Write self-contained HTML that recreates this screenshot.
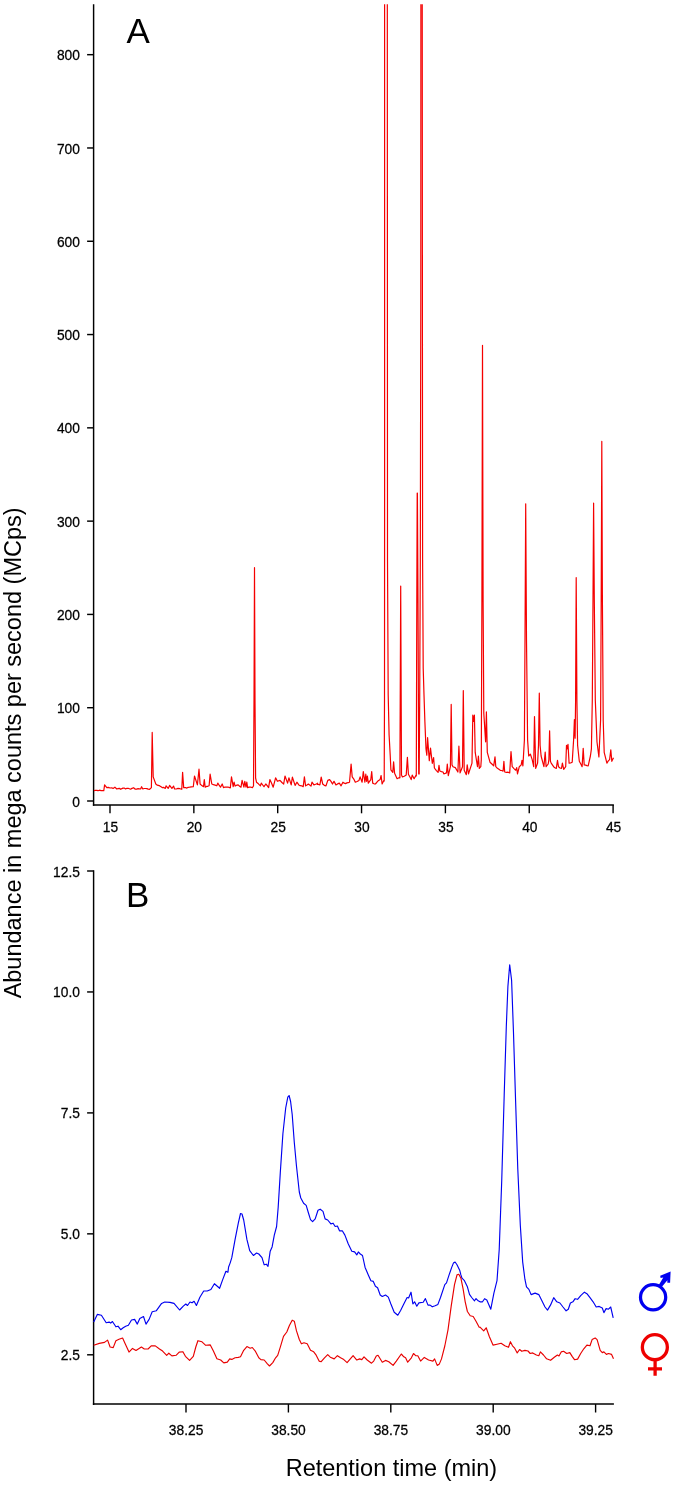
<!DOCTYPE html>
<html lang="en"><head><meta charset="utf-8"><title>Chromatogram</title>
<style>html,body{margin:0;padding:0;background:#fff}svg{display:block}text{font-family:"Liberation Sans",Arial,Helvetica,sans-serif;fill:#000}.t{font-size:13.8px;stroke:#000;stroke-width:.25px}.big{font-size:35px}.ttl{font-size:23.5px}.ay{stroke:#000;stroke-width:1.45;fill:none}.axx{stroke:#000;stroke-width:1.5;fill:none}.tky{stroke:#000;stroke-width:1.45;fill:none}.tkx{stroke:#000;stroke-width:1.4;fill:none}</style></head><body>
<svg width="675" height="1485" viewBox="0 0 675 1485">
<rect width="675" height="1485" fill="#fff"/>
<defs><clipPath id="ca"><rect x="92.8" y="4.3" width="521.4" height="800.6"/></clipPath></defs>
<path class="ay" d="M93.60 4.3 V805.70"/>
<path class="axx" d="M92.88 804.90 H613.9"/>
<path class="tky" d="M87.1 801.00 H93.6"/>
<text class="t" transform="translate(79.9 806.5) scale(1 1.120)" text-anchor="end">0</text>
<path class="tky" d="M87.1 707.71 H93.6"/>
<text class="t" transform="translate(79.9 713.2) scale(1 1.120)" text-anchor="end">100</text>
<path class="tky" d="M87.1 614.42 H93.6"/>
<text class="t" transform="translate(79.9 619.9) scale(1 1.120)" text-anchor="end">200</text>
<path class="tky" d="M87.1 521.13 H93.6"/>
<text class="t" transform="translate(79.9 526.6) scale(1 1.120)" text-anchor="end">300</text>
<path class="tky" d="M87.1 427.84 H93.6"/>
<text class="t" transform="translate(79.9 433.3) scale(1 1.120)" text-anchor="end">400</text>
<path class="tky" d="M87.1 334.55 H93.6"/>
<text class="t" transform="translate(79.9 340.1) scale(1 1.120)" text-anchor="end">500</text>
<path class="tky" d="M87.1 241.26 H93.6"/>
<text class="t" transform="translate(79.9 246.8) scale(1 1.120)" text-anchor="end">600</text>
<path class="tky" d="M87.1 147.97 H93.6"/>
<text class="t" transform="translate(79.9 153.5) scale(1 1.120)" text-anchor="end">700</text>
<path class="tky" d="M87.1 54.68 H93.6"/>
<text class="t" transform="translate(79.9 60.2) scale(1 1.120)" text-anchor="end">800</text>
<path class="tkx" d="M110.00 804.9 V813.3"/>
<text class="t" transform="translate(110.5 831.7) scale(1 1.120)" text-anchor="middle">15</text>
<path class="tkx" d="M193.85 804.9 V813.3"/>
<text class="t" transform="translate(194.3 831.7) scale(1 1.120)" text-anchor="middle">20</text>
<path class="tkx" d="M277.70 804.9 V813.3"/>
<text class="t" transform="translate(278.2 831.7) scale(1 1.120)" text-anchor="middle">25</text>
<path class="tkx" d="M361.55 804.9 V813.3"/>
<text class="t" transform="translate(362.0 831.7) scale(1 1.120)" text-anchor="middle">30</text>
<path class="tkx" d="M445.40 804.9 V813.3"/>
<text class="t" transform="translate(445.9 831.7) scale(1 1.120)" text-anchor="middle">35</text>
<path class="tkx" d="M529.25 804.9 V813.3"/>
<text class="t" transform="translate(529.8 831.7) scale(1 1.120)" text-anchor="middle">40</text>
<path class="tkx" d="M613.10 804.9 V813.3"/>
<text class="t" transform="translate(613.6 831.7) scale(1 1.120)" text-anchor="middle">45</text>
<g clip-path="url(#ca)"><path d="M93.9 790.6 L95.3 790.4 L96.7 790.3 L98.1 790.7 L99.5 790.2 L101.0 790.6 L102.4 790.5 L103.8 790.6 L104.6 784.9 L106.8 787.6 L108.4 787.4 L110.0 788.0 L111.5 787.8 L113.1 788.4 L114.9 787.2 L116.7 789.0 L118.0 788.6 L119.3 788.3 L120.6 789.3 L122.9 788.1 L124.2 788.1 L125.6 789.0 L126.9 788.3 L128.2 788.3 L130.5 789.2 L132.0 788.4 L133.6 787.7 L135.3 789.2 L136.7 789.2 L138.0 788.6 L140.6 789.0 L141.6 786.7 L142.8 789.0 L144.2 788.5 L145.5 788.5 L146.9 788.6 L148.2 789.1 L149.6 789.3 L151.4 787.6 L152.2 732.4 L153.2 776.9 L155.8 784.0 L157.1 785.1 L158.4 785.4 L159.8 785.9 L161.1 786.7 L162.5 787.7 L163.9 787.4 L165.3 788.4 L166.1 785.8 L168.2 788.4 L169.6 785.4 L171.9 788.4 L173.6 786.1 L174.6 789.0 L176.3 789.0 L178.0 788.4 L179.9 788.7 L181.8 789.3 L182.6 772.4 L183.7 787.6 L185.3 787.5 L186.9 788.1 L188.2 787.3 L189.6 787.2 L191.4 786.8 L193.3 786.7 L194.5 776.0 L197.4 784.9 L199.0 769.2 L200.1 784.0 L201.8 785.6 L203.5 786.7 L204.3 779.6 L205.2 787.2 L206.5 786.4 L207.8 786.3 L209.1 785.8 L210.1 774.2 L211.8 784.0 L213.4 784.7 L215.1 785.1 L216.8 785.8 L217.8 783.1 L219.1 785.2 L220.5 787.2 L222.2 784.0 L223.5 787.6 L225.1 787.0 L226.7 787.2 L228.5 787.2 L230.3 787.9 L231.5 776.9 L233.2 786.7 L234.1 782.2 L235.1 786.1 L236.7 785.2 L238.2 784.9 L239.6 786.2 L241.0 787.2 L242.1 780.4 L243.9 787.2 L244.8 781.3 L246.0 787.2 L246.8 782.2 L247.6 787.6 L249.0 787.2 L250.3 787.0 L252.4 787.6 L253.5 786.0 L254.0 700.0 L254.5 567.7 L255.0 700.0 L255.6 778.0 L256.5 782.2 L258.4 783.8 L260.4 785.8 L261.3 783.1 L262.7 785.0 L264.0 786.7 L265.8 784.0 L267.2 785.7 L268.6 787.6 L269.9 779.6 L271.6 783.2 L273.2 787.2 L275.6 777.8 L277.4 781.3 L280.0 780.4 L281.9 782.5 L283.7 784.0 L285.0 776.0 L287.6 783.1 L288.9 777.8 L291.2 784.9 L292.4 777.2 L295.1 785.4 L296.9 782.2 L298.8 784.9 L300.2 785.7 L301.7 785.8 L303.2 786.7 L304.4 776.9 L305.6 785.8 L307.0 785.0 L308.4 784.0 L311.0 786.1 L312.0 782.2 L313.9 784.9 L315.6 784.3 L317.3 783.6 L317.4 783.1 L317.4 783.9 L317.5 784.0 L317.5 784.5 L318.4 784.4 L319.9 784.9 L321.2 777.2 L322.7 784.0 L324.3 785.3 L326.0 785.8 L327.8 780.4 L329.6 779.6 L331.0 781.4 L332.5 784.0 L334.0 781.3 L335.9 784.9 L337.6 783.9 L339.3 783.1 L341.1 785.8 L342.9 782.2 L344.2 783.2 L345.6 783.6 L346.9 782.9 L348.2 782.7 L349.5 782.2 L351.1 764.1 L352.2 776.9 L353.8 779.1 L355.3 782.2 L357.1 781.5 L359.0 780.4 L360.1 776.9 L362.1 782.2 L363.3 771.6 L364.9 782.2 L365.8 774.2 L366.6 781.3 L367.4 776.0 L368.3 783.1 L370.8 779.6 L371.7 771.6 L372.7 783.1 L374.1 783.8 L375.4 784.0 L377.6 781.3 L380.1 779.6 L381.1 775.5 L382.1 784.0 L383.8 780.4 L384.2 781.0 L384.5 700.0 L384.6 500.0 L384.6 -40.0 L386.0 -39.9 L387.3 -40.0 L387.5 560.0 L388.2 695.0 L389.1 735.0 L390.2 755.0 L390.9 769.8 L392.8 772.4 L393.6 761.8 L394.6 773.3 L397.1 778.7 L398.9 777.8 L399.9 778.0 L400.7 586.0 L401.5 775.0 L402.4 776.9 L404.3 776.3 L406.2 775.1 L407.4 757.3 L408.4 774.2 L409.8 776.7 L411.2 779.6 L412.2 775.1 L414.1 778.7 L416.1 775.1 L416.3 776.0 L416.8 600.0 L417.2 493.0 L417.4 493.0 L418.0 600.0 L418.7 774.0 L419.2 774.0 L419.7 700.0 L420.3 560.0 L420.8 300.0 L420.9 -40.0 L422.2 -40.0 L422.4 300.0 L422.6 560.0 L423.2 668.0 L424.0 695.0 L424.9 722.0 L426.0 749.0 L426.8 755.2 L427.6 737.7 L429.3 760.6 L430.5 748.1 L432.3 763.3 L433.6 757.6 L434.4 768.0 L436.2 770.4 L438.1 772.4 L439.0 765.3 L439.8 771.0 L441.4 771.6 L443.0 772.0 L443.8 773.8 L445.2 773.4 L446.5 772.9 L447.3 764.0 L448.3 775.6 L450.4 766.7 L451.2 704.4 L452.0 764.9 L453.0 766.7 L455.3 767.6 L457.9 772.0 L458.9 746.2 L460.1 772.9 L462.5 766.7 L463.3 690.6 L464.2 770.2 L466.3 774.7 L467.2 764.9 L468.5 773.8 L472.0 763.1 L472.8 715.1 L473.6 721.3 L474.4 715.1 L475.2 752.4 L477.5 766.7 L478.4 756.0 L479.3 768.4 L480.8 766.7 L481.3 759.6 L481.9 600.0 L482.5 345.3 L483.1 600.0 L483.8 713.3 L485.6 741.8 L486.4 711.9 L487.3 752.4 L490.0 762.2 L491.9 764.0 L493.7 765.8 L495.0 756.9 L495.8 766.7 L497.4 768.3 L498.9 769.3 L500.3 770.3 L501.7 770.5 L503.1 771.1 L503.9 761.3 L504.7 772.0 L506.4 772.4 L508.1 772.2 L509.7 772.9 L511.0 751.6 L512.2 766.7 L514.0 768.6 L515.7 770.2 L516.7 767.6 L517.5 773.8 L519.3 766.7 L521.2 764.9 L522.0 760.4 L522.9 765.8 L524.4 740.0 L525.0 640.0 L525.7 503.8 L526.5 640.0 L527.6 740.0 L528.7 756.0 L530.4 754.2 L532.2 759.6 L533.7 766.7 L534.5 716.5 L535.7 768.4 L537.6 763.1 L538.5 745.3 L539.3 693.2 L540.1 745.3 L541.1 756.0 L543.9 766.7 L545.2 752.1 L546.1 766.7 L548.2 764.0 L548.9 759.6 L549.6 730.8 L550.4 761.3 L551.2 763.1 L553.6 766.7 L554.9 767.7 L556.3 768.4 L557.5 760.4 L558.5 766.7 L560.0 768.0 L561.5 768.4 L562.4 763.1 L563.7 769.3 L565.7 766.7 L566.5 745.3 L567.2 748.9 L568.0 744.4 L569.1 763.1 L570.6 763.0 L572.2 762.2 L573.6 740.0 L574.4 719.6 L575.1 738.2 L575.6 700.0 L576.2 577.7 L576.9 700.0 L577.6 745.3 L579.3 761.3 L580.7 763.8 L582.1 766.7 L583.2 748.4 L584.2 764.9 L585.6 765.1 L586.9 765.6 L588.2 765.8 L590.4 756.0 L591.4 748.9 L592.3 700.0 L593.0 600.0 L593.6 503.0 L594.3 600.0 L595.3 700.0 L597.0 742.0 L598.9 756.9 L600.6 720.0 L601.2 600.0 L601.8 441.4 L602.4 600.0 L603.2 720.0 L604.2 752.4 L606.9 763.1 L608.3 760.9 L609.6 759.6 L610.8 749.8 L611.8 761.3 L613.5 757.8" fill="none" stroke="#f50000" stroke-width="1.2" stroke-linejoin="round"/></g>
<text class="big" transform="translate(126.6 43.2) scale(1 1.025)" text-anchor="start">A</text>
<path class="ay" d="M93.60 870.3 V1404.90"/>
<path class="axx" d="M92.88 1404.10 H613.9"/>
<path class="tky" d="M87.1 1354.80 H93.6"/>
<text class="t" transform="translate(79.9 1360.3) scale(1 1.120)" text-anchor="end">2.5</text>
<path class="tky" d="M87.1 1233.85 H93.6"/>
<text class="t" transform="translate(79.9 1239.3) scale(1 1.120)" text-anchor="end">5.0</text>
<path class="tky" d="M87.1 1112.90 H93.6"/>
<text class="t" transform="translate(79.9 1118.4) scale(1 1.120)" text-anchor="end">7.5</text>
<path class="tky" d="M87.1 991.95 H93.6"/>
<text class="t" transform="translate(79.9 997.4) scale(1 1.120)" text-anchor="end">10.0</text>
<path class="tky" d="M87.1 871.00 H93.6"/>
<text class="t" transform="translate(79.9 876.5) scale(1 1.120)" text-anchor="end">12.5</text>
<path class="tkx" d="M186.00 1404.1 V1412.5"/>
<text class="t" transform="translate(186.1 1434.8) scale(1 1.120)" text-anchor="middle">38.25</text>
<path class="tkx" d="M288.40 1404.1 V1412.5"/>
<text class="t" transform="translate(288.5 1434.8) scale(1 1.120)" text-anchor="middle">38.50</text>
<path class="tkx" d="M390.80 1404.1 V1412.5"/>
<text class="t" transform="translate(390.9 1434.8) scale(1 1.120)" text-anchor="middle">38.75</text>
<path class="tkx" d="M493.20 1404.1 V1412.5"/>
<text class="t" transform="translate(493.3 1434.8) scale(1 1.120)" text-anchor="middle">39.00</text>
<path class="tkx" d="M595.60 1404.1 V1412.5"/>
<text class="t" transform="translate(595.7 1434.8) scale(1 1.120)" text-anchor="middle">39.25</text>
<path d="M93.7 1322.1 L97.3 1314.4 L101.4 1315.2 L106.2 1322.7 L109.1 1322.1 L110.7 1323.1 L112.4 1321.5 L115.9 1326.8 L118.0 1326.2 L120.7 1329.7 L123.2 1327.7 L125.7 1326.2 L128.4 1325.2 L131.5 1320.0 L134.6 1319.4 L137.3 1324.1 L139.8 1318.5 L143.5 1316.5 L146.0 1324.1 L149.1 1319.4 L152.2 1311.7 L156.4 1310.7 L161.6 1303.4 L164.7 1302.0 L169.9 1302.4 L174.0 1303.4 L179.6 1310.0 L183.3 1306.1 L185.8 1304.0 L187.5 1305.5 L190.0 1302.0 L192.0 1302.8 L194.1 1301.3 L196.4 1305.5 L199.9 1297.2 L203.7 1291.0 L207.2 1291.0 L210.9 1289.5 L214.4 1283.7 L219.6 1288.3 L222.7 1279.6 L225.9 1271.3 L227.9 1272.3 L228.6 1267.0 L230.1 1263.1 L231.8 1257.7 L235.1 1239.4 L238.3 1223.2 L240.5 1213.5 L242.0 1214.0 L243.7 1220.0 L246.9 1239.4 L249.7 1250.6 L253.4 1255.5 L256.6 1253.0 L258.8 1254.0 L262.0 1257.7 L264.2 1264.8 L266.3 1264.2 L268.0 1266.3 L270.2 1251.2 L272.1 1246.9 L274.3 1235.1 L276.6 1226.5 L278.2 1207.1 L280.3 1172.6 L282.9 1133.8 L285.7 1108.0 L287.8 1097.2 L289.1 1095.5 L290.6 1101.5 L292.2 1114.5 L294.3 1142.5 L296.5 1166.2 L299.3 1192.0 L300.8 1198.0 L303.6 1203.2 L306.2 1205.4 L308.3 1212.5 L310.5 1219.6 L312.6 1221.7 L315.2 1218.9 L318.0 1210.3 L320.2 1209.2 L323.0 1211.4 L325.1 1218.9 L327.7 1220.0 L330.9 1223.9 L333.1 1223.2 L335.2 1226.5 L337.4 1226.0 L339.5 1230.8 L342.3 1230.8 L344.9 1235.1 L348.2 1243.7 L351.8 1251.2 L354.6 1251.9 L356.8 1254.9 L358.3 1251.9 L360.3 1254.0 L362.5 1255.5 L365.1 1267.4 L368.3 1274.9 L370.9 1280.7 L373.3 1281.4 L375.4 1286.3 L377.6 1287.8 L380.2 1295.0 L382.3 1296.5 L385.5 1295.0 L388.3 1297.1 L390.9 1304.0 L394.2 1312.2 L397.8 1315.2 L400.6 1310.5 L403.8 1304.0 L407.1 1297.5 L408.6 1298.0 L411.0 1292.2 L412.9 1304.0 L414.6 1301.8 L416.8 1306.2 L418.9 1302.9 L423.2 1302.3 L425.4 1298.6 L428.0 1305.1 L430.1 1305.1 L432.3 1306.8 L435.1 1305.7 L437.9 1304.4 L440.5 1297.5 L444.8 1284.6 L446.5 1282.9 L449.1 1274.9 L451.7 1267.4 L453.4 1263.1 L455.1 1262.0 L457.0 1264.8 L459.8 1270.6 L460.9 1274.9 L462.0 1278.2 L464.2 1280.3 L467.4 1286.8 L469.5 1294.3 L471.7 1297.5 L474.5 1300.8 L476.0 1298.6 L478.2 1300.8 L480.0 1301.8 L482.5 1301.8 L484.6 1298.7 L486.8 1299.9 L490.8 1309.2 L493.9 1293.1 L497.0 1280.7 L499.2 1249.7 L501.7 1181.6 L504.2 1094.9 L506.3 1026.7 L507.9 986.5 L509.7 964.8 L511.6 980.3 L513.5 1032.9 L515.6 1101.1 L517.8 1169.2 L520.3 1225.0 L522.7 1262.1 L524.9 1279.2 L526.5 1286.9 L528.9 1289.4 L531.1 1294.6 L535.1 1293.1 L538.8 1294.6 L541.9 1300.8 L545.0 1307.0 L547.5 1310.1 L550.6 1304.9 L553.7 1297.7 L556.8 1301.8 L559.9 1303.0 L563.0 1307.0 L566.1 1310.8 L568.3 1309.2 L570.4 1303.0 L572.9 1301.8 L575.1 1298.7 L577.6 1299.3 L580.7 1295.6 L584.4 1292.2 L586.9 1293.7 L590.0 1297.7 L593.1 1301.8 L596.2 1307.0 L599.2 1306.4 L602.3 1308.0 L603.9 1312.6 L606.1 1308.6 L608.5 1309.2 L610.7 1307.0 L613.2 1317.9" fill="none" stroke="#0000f0" stroke-width="1.15" stroke-linejoin="round"/>
<path d="M93.7 1345.3 L99.3 1343.4 L104.5 1342.4 L107.6 1340.1 L110.1 1347.0 L113.2 1347.6 L115.9 1340.7 L119.0 1339.3 L122.6 1338.0 L125.3 1343.9 L129.0 1352.1 L132.5 1348.4 L136.0 1350.5 L141.4 1347.0 L144.3 1349.0 L148.1 1349.0 L151.2 1345.9 L155.3 1345.9 L159.5 1349.0 L162.6 1351.1 L166.7 1355.3 L168.8 1353.2 L171.9 1355.9 L176.1 1355.3 L179.2 1352.1 L182.9 1351.7 L185.4 1356.3 L189.6 1360.4 L193.3 1356.3 L195.8 1347.0 L197.9 1340.7 L202.0 1341.8 L205.7 1345.3 L210.3 1344.9 L213.4 1351.1 L216.9 1358.8 L220.7 1360.0 L223.8 1362.9 L227.3 1362.1 L229.7 1358.9 L231.8 1359.4 L235.1 1357.8 L238.3 1357.4 L240.5 1356.8 L243.7 1350.3 L246.9 1346.6 L250.2 1348.2 L252.3 1347.5 L255.5 1351.4 L258.8 1357.8 L260.9 1359.6 L264.2 1360.0 L267.4 1363.9 L269.5 1366.0 L272.8 1362.6 L275.6 1357.8 L277.7 1355.3 L280.3 1347.1 L283.5 1336.3 L286.8 1332.0 L289.4 1325.5 L292.2 1320.2 L294.3 1321.2 L296.5 1330.9 L299.3 1339.5 L301.4 1343.8 L304.0 1342.8 L307.2 1343.8 L310.5 1350.3 L313.7 1351.8 L315.8 1354.6 L319.1 1361.1 L321.2 1361.7 L324.5 1357.8 L327.7 1354.6 L330.3 1357.2 L334.2 1358.9 L337.4 1355.7 L340.6 1357.8 L343.8 1359.6 L347.1 1362.6 L350.3 1358.9 L353.1 1355.7 L356.8 1360.0 L359.7 1358.9 L361.8 1359.6 L364.0 1356.8 L367.2 1360.0 L371.5 1363.2 L373.7 1361.1 L376.3 1356.1 L378.0 1355.3 L382.3 1362.2 L385.5 1360.4 L388.8 1361.7 L393.1 1365.4 L396.3 1361.1 L401.3 1354.0 L403.8 1356.8 L405.6 1357.8 L407.7 1362.2 L411.4 1357.8 L413.5 1353.5 L415.7 1355.7 L417.8 1355.7 L420.6 1361.1 L424.3 1357.4 L428.6 1360.0 L432.9 1361.1 L434.6 1358.9 L437.2 1365.4 L439.4 1363.9 L441.5 1358.9 L444.8 1346.0 L448.0 1329.8 L451.2 1306.2 L454.5 1284.6 L457.0 1274.9 L458.8 1274.3 L460.9 1278.2 L463.1 1288.9 L465.2 1301.8 L467.4 1311.5 L470.2 1315.8 L473.2 1316.5 L476.0 1321.2 L479.2 1327.3 L480.0 1327.2 L483.7 1330.9 L486.2 1327.8 L489.3 1336.5 L493.0 1345.1 L497.0 1344.2 L501.1 1343.3 L504.8 1345.8 L508.5 1347.3 L510.4 1341.7 L512.5 1345.8 L514.7 1348.2 L517.2 1352.9 L519.6 1349.5 L521.8 1351.3 L524.9 1350.4 L528.0 1351.0 L530.2 1353.5 L532.7 1352.9 L536.4 1355.0 L538.8 1355.7 L540.4 1351.9 L543.5 1355.0 L546.6 1358.8 L550.6 1360.3 L554.3 1357.2 L557.4 1355.0 L559.0 1356.0 L561.2 1351.9 L563.6 1351.3 L566.7 1353.5 L569.8 1352.6 L572.3 1356.6 L574.5 1359.7 L577.6 1359.1 L580.7 1353.5 L583.8 1348.8 L586.9 1345.1 L590.0 1345.8 L592.1 1339.6 L595.2 1338.0 L597.1 1339.6 L600.2 1350.4 L602.3 1352.6 L603.9 1351.9 L606.4 1354.4 L608.5 1353.5 L611.6 1354.4 L613.5 1358.8" fill="none" stroke="#e80000" stroke-width="1.15" stroke-linejoin="round"/>
<text class="big" transform="translate(126.1 907.3) scale(1 1.025)" text-anchor="start">B</text>
<text class="ttl" transform="translate(391.4 1475.8) scale(1 1.050)" text-anchor="middle">Retention time (min)</text>
<text class="ttl" transform="translate(21.3 752.9) rotate(-90) scale(1 1.030)" text-anchor="middle">Abundance in mega counts per second (MCps)</text>
<circle cx="653.1" cy="1297.3" r="12.6" fill="none" stroke="#0000f0" stroke-width="3.25"/>
<path d="M670.6 1271.5 L670.1 1282.8 L667.3 1282.8 L667.4 1280.2 L661.7 1287.1 L658.8 1285.0 L663.3 1277.6 L660.6 1277.9 L660.2 1275.7 Z" fill="#0000f0"/>
<g fill="none" stroke="#ee0000" stroke-width="3.3"><circle cx="654.85" cy="1347.2" r="12.5"/><path d="M655.1 1359.5 V1375.8 M648 1368.9 H662"/></g>
</svg></body></html>
